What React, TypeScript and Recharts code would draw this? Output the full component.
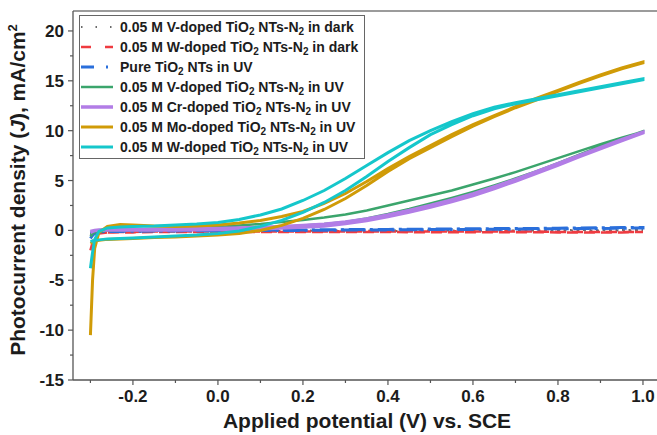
import { LineChart, Line, XAxis, YAxis, ReferenceLine, Legend } from "recharts";

// Potential grid (V vs. SCE) shared by every sweep; forward runs up it, backward runs down it.
const potential = [
  -0.3, -0.295, -0.29, -0.28, -0.26, -0.23, -0.2, -0.15, -0.1, -0.05, 0, 0.05, 0.1, 0.15, 0.2,
  0.25, 0.3, 0.35, 0.4, 0.45, 0.5, 0.55, 0.6, 0.65, 0.7, 0.75, 0.8, 0.85, 0.9, 0.95, 1.0,
];

const vDarkFwd = [-0.5, -0.3, -0.15, -0.05, 0, 0, 0, 0, 0, 0, 0, 0, 0, 0, 0, 0, 0, 0, 0, 0, 0, 0, 0, 0, 0, 0, 0, 0.05, 0.05, 0.05, 0.05];
const vDarkBwd = [-0.2, -0.15, -0.1, -0.05, -0.05, -0.05, -0.05, -0.05, -0.05, -0.05, -0.05, -0.05, -0.05, -0.05, -0.05, -0.05, -0.05, -0.05, -0.05, -0.05, -0.05, -0.05, -0.05, 0, 0, 0, 0, 0, 0, 0, 0.05];

const wDarkFwd = [-2.0, -1.2, -0.6, -0.3, -0.2, -0.15, -0.15, -0.1, -0.1, -0.1, -0.1, -0.1, -0.1, -0.1, -0.1, -0.1, -0.1, -0.1, -0.1, -0.12, -0.12, -0.12, -0.12, -0.12, -0.12, -0.12, -0.15, -0.15, -0.15, -0.15, -0.15];
const wDarkBwd = [-0.5, -0.4, -0.3, -0.25, -0.2, -0.2, -0.2, -0.15, -0.15, -0.15, -0.15, -0.15, -0.15, -0.15, -0.15, -0.15, -0.15, -0.15, -0.15, -0.18, -0.18, -0.18, -0.18, -0.18, -0.18, -0.18, -0.2, -0.2, -0.2, -0.2, -0.15];

const pureFwd = [-0.8, -0.5, -0.3, -0.15, -0.05, 0, 0, 0, 0, 0, 0, 0.02, 0.03, 0.05, 0.05, 0.06, 0.08, 0.1, 0.1, 0.12, 0.13, 0.15, 0.16, 0.18, 0.2, 0.2, 0.22, 0.24, 0.26, 0.28, 0.3];
const pureBwd = [-0.3, -0.25, -0.2, -0.15, -0.1, -0.1, -0.08, -0.06, -0.05, -0.04, -0.03, -0.02, -0.01, 0, 0, 0.02, 0.03, 0.04, 0.05, 0.06, 0.08, 0.09, 0.1, 0.12, 0.13, 0.15, 0.16, 0.18, 0.2, 0.22, 0.25];

const vUvFwd = [-0.6, -0.35, -0.15, 0, 0.05, 0.05, 0.05, 0.05, 0.08, 0.1, 0.12, 0.18, 0.25, 0.35, 0.5, 0.65, 0.85, 1.2, 1.65, 2.15, 2.7, 3.25, 3.85, 4.5, 5.2, 5.95, 6.75, 7.6, 8.45, 9.2, 9.95];
const vUvBwd = [-0.4, -0.3, -0.2, -0.1, 0, 0.05, 0.1, 0.15, 0.2, 0.25, 0.35, 0.5, 0.65, 0.85, 1.05, 1.3, 1.6, 2.0, 2.5, 3.0, 3.5, 4.0, 4.6, 5.2, 5.85, 6.55, 7.25, 7.95, 8.65, 9.3, 9.9];

const crUvFwd = [-0.2, -0.1, -0.02, 0.02, 0.03, 0.03, 0.03, 0.04, 0.05, 0.06, 0.08, 0.12, 0.17, 0.24, 0.33, 0.45, 0.7, 1.0, 1.4, 1.85, 2.35, 2.9, 3.5, 4.2, 4.95, 5.75, 6.55, 7.4, 8.2, 9.0, 9.8];
const crUvBwd = [-0.1, -0.05, 0, 0.05, 0.08, 0.1, 0.1, 0.12, 0.14, 0.16, 0.2, 0.24, 0.3, 0.38, 0.48, 0.62, 0.85, 1.15, 1.55, 2.0, 2.5, 3.05, 3.65, 4.35, 5.1, 5.9, 6.7, 7.5, 8.3, 9.1, 9.85];

const moUvFwd = [-10.5, -5.0, -1.8, -0.2, 0.4, 0.6, 0.55, 0.45, 0.4, 0.45, 0.55, 0.75, 1.0, 1.4, 1.9, 2.7, 3.7, 4.9, 6.2, 7.4, 8.5, 9.6, 10.6, 11.5, 12.4, 13.25, 14.05, 14.85, 15.6, 16.3, 16.9];
const moUvBwd = [-1.3, -1.2, -1.1, -1.0, -0.9, -0.85, -0.8, -0.7, -0.65, -0.55, -0.45, -0.3, 0, 0.5, 1.2, 2.1, 3.2, 4.5, 5.9, 7.2, 8.3, 9.4, 10.45, 11.4, 12.3, 13.1, 13.95, 14.75, 15.5, 16.2, 16.8];

const wUvFwd = [-3.8, -2.2, -0.9, -0.1, 0.25, 0.35, 0.4, 0.45, 0.55, 0.65, 0.8, 1.1, 1.55, 2.15, 3.0, 4.0, 5.2, 6.5, 7.8, 9.0, 10.0, 10.9, 11.7, 12.35, 12.8, 13.2, 13.6, 14.0, 14.4, 14.8, 15.2];
const wUvBwd = [-1.1, -1.05, -1.0, -0.95, -0.85, -0.8, -0.75, -0.65, -0.55, -0.45, -0.3, -0.05, 0.4, 1.0, 1.8, 2.8, 4.0, 5.4, 6.9, 8.3, 9.6, 10.6, 11.5, 12.2, 12.7, 13.1, 13.5, 13.9, 14.3, 14.7, 15.1];

const xTicks = [-0.3, -0.2, -0.1, 0, 0.1, 0.2, 0.3, 0.4, 0.5, 0.6, 0.7, 0.8, 0.9, 1.0];
const yTicks = [-15, -12.5, -10, -7.5, -5, -2.5, 0, 2.5, 5, 7.5, 10, 12.5, 15, 17.5, 20];

// "_2" marks a subscript 2 in the legend labels
const labels = [
  "0.05 M V-doped TiO_2 NTs-N_2 in dark",
  "0.05 M W-doped TiO_2 NTs-N_2 in dark",
  "Pure TiO_2 NTs in UV",
  "0.05 M V-doped TiO_2 NTs-N_2 in UV",
  "0.05 M Cr-doped TiO_2 NTs-N_2 in UV",
  "0.05 M Mo-doped TiO_2 NTs-N_2 in UV",
  "0.05 M W-doped TiO_2 NTs-N_2 in UV",
];

const FONT = "'Liberation Sans', Arial, Helvetica, sans-serif";
const INK = "#1c1c1c";

function sweep(fwd: number[], bwd: number[]) {
  const out = potential.map((v, i) => ({ v, j: fwd[i] }));
  for (let i = potential.length - 1; i >= 0; i--) out.push({ v: potential[i], j: bwd[i] });
  return out;
}

const series = [
  { data: sweep(vDarkFwd, vDarkBwd), color: "#6a6a6a", width: 2, dash: "1.5 5" },
  { data: sweep(wDarkFwd, wDarkBwd), color: "#ef3b40", width: 2.5, dash: "11 6" },
  { data: sweep(pureFwd, pureBwd), color: "#2a6fdb", width: 3, dash: "16 5 3 5" },
  { data: sweep(vUvFwd, vUvBwd), color: "#3ba56c", width: 2.5, dash: undefined },
  { data: sweep(crUvFwd, crUvBwd), color: "#b27de6", width: 3.5, dash: undefined },
  { data: sweep(moUvFwd, moUvBwd), color: "#d09b07", width: 3, dash: undefined },
  { data: sweep(wUvFwd, wUvBwd), color: "#15c7cb", width: 3, dash: undefined },
];

// legend sample dash patterns differ a bit from the plotted ones in the original
const legendDash = ["1.5 13", "10 14", "13 12 2 10", undefined, undefined, undefined, undefined];

function withSubs(text: string) {
  const parts = text.split("_2");
  return parts.map((p, i) => (
    <span key={i}>
      {p}
      {i < parts.length - 1 && (
        <sub style={{ fontSize: 10, lineHeight: 0, verticalAlign: -3 }}>2</sub>
      )}
    </span>
  ));
}

function LegendBox() {
  return (
    <div
      style={{
        border: "1.5px solid #666",
        background: "#fff",
        padding: "1px 6px 1px 0",
        fontFamily: FONT,
        fontWeight: 700,
        fontSize: 14,
        color: INK,
        whiteSpace: "nowrap",
      }}
    >
      {labels.map((label, i) => (
        <div key={label} style={{ display: "flex", alignItems: "center", height: 20 }}>
          <svg width={40} height={6} style={{ flex: "none" }}>
            <line
              x1={1}
              x2={33}
              y1={3}
              y2={3}
              stroke={series[i].color}
              strokeWidth={series[i].width}
              strokeDasharray={legendDash[i]}
            />
          </svg>
          <span>{withSubs(label)}</span>
        </div>
      ))}
    </div>
  );
}

function XTick(props: any) {
  const { x, y, payload } = props;
  const major = Math.round(payload.value * 10) % 2 === 0;
  return (
    <g>
      <line x1={x} x2={x} y1={y} y2={y + (major ? 5 : 3)} stroke="#555" strokeWidth={1.2} />
      {major && (
        <text x={x} y={y + 22} textAnchor="middle" fontFamily={FONT} fontWeight={700} fontSize={17} fill={INK}>
          {payload.value.toFixed(1)}
        </text>
      )}
    </g>
  );
}

function YTick(props: any) {
  const { x, y, payload } = props;
  const major = Math.abs(payload.value % 5) < 1e-6;
  return (
    <g>
      <line x1={x - (major ? 5 : 3)} x2={x} y1={y} y2={y} stroke="#555" strokeWidth={1.2} />
      {major && (
        <text x={x - 9} y={y} dy={6} textAnchor="end" fontFamily={FONT} fontWeight={700} fontSize={17} fill={INK}>
          {payload.value}
        </text>
      )}
    </g>
  );
}

function XTitle() {
  return (
    <text x={367} y={428} textAnchor="middle" fontFamily={FONT} fontWeight={700} fontSize={21} fill={INK}>
      Applied potential (V) vs. SCE
    </text>
  );
}

function YTitle() {
  return (
    <text
      transform="translate(25,190) rotate(-90)"
      textAnchor="middle"
      fontFamily={FONT}
      fontWeight={700}
      fontSize={21}
      fill={INK}
    >
      Photocurrent density (<tspan fontStyle="italic">J</tspan>), mA/cm
      <tspan dy={-8} fontSize={13}>2</tspan>
    </text>
  );
}

export default function App() {
  return (
    <div style={{ position: "absolute", left: 0, top: 0, background: "#fff" }}>
      <LineChart width={657} height={435} margin={{ top: 11, right: 0, bottom: 0, left: 0 }}>
        <XAxis
          dataKey="v"
          type="number"
          domain={[-0.341, 1.033]}
          allowDataOverflow
          ticks={xTicks}
          interval={0}
          height={55}
          tickLine={false}
          tickSize={0}
          tickMargin={0}
          tick={<XTick />}
          axisLine={{ stroke: "#555", strokeWidth: 1.3 }}
          label={<XTitle />}
        />
        <YAxis
          type="number"
          domain={[-15, 22]}
          allowDataOverflow
          ticks={yTicks}
          interval={0}
          width={73}
          tickLine={false}
          tickSize={0}
          tickMargin={0}
          tick={<YTick />}
          axisLine={{ stroke: "#555", strokeWidth: 1.3 }}
          label={<YTitle />}
        />
        <ReferenceLine y={22} stroke="#7a7a7a" strokeWidth={1.5} />
        {series.map((s, i) => (
          <Line
            key={i}
            data={s.data}
            dataKey="j"
            type="linear"
            stroke={s.color}
            strokeWidth={s.width}
            strokeDasharray={s.dash}
            dot={false}
            activeDot={false}
            isAnimationActive={false}
          />
        ))}
        <Legend
          layout="horizontal"
          verticalAlign="middle"
          align="center"
          wrapperStyle={{ left: 79, top: 15, width: "auto", height: "auto" }}
          content={() => <LegendBox />}
        />
      </LineChart>
    </div>
  );
}
